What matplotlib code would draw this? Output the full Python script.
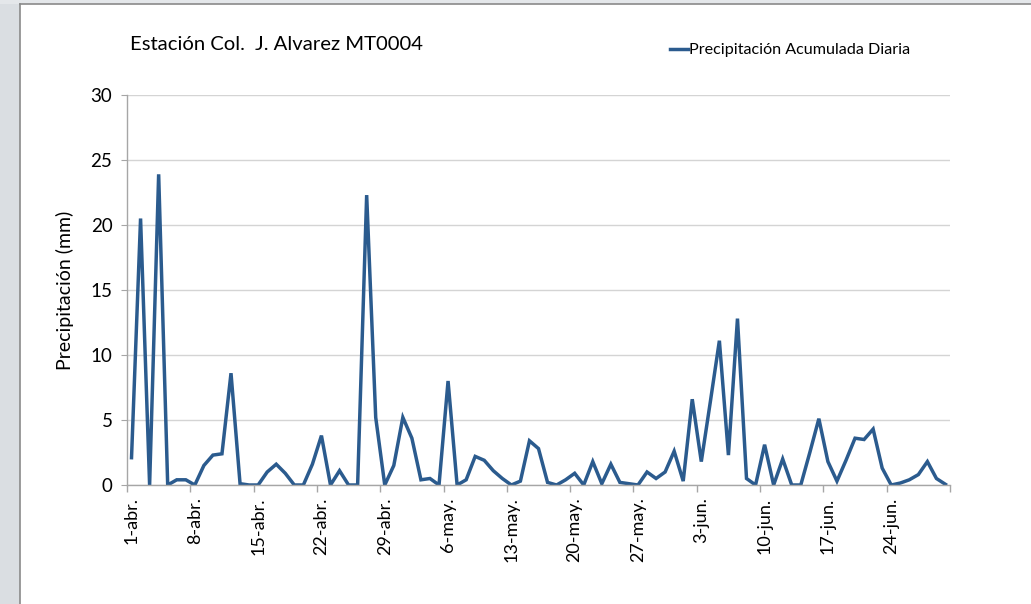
import numpy as np
import matplotlib
matplotlib.use('Agg')
import matplotlib.pyplot as plt
from matplotlib.patches import Rectangle
from matplotlib.lines import Line2D

plt.rcParams['font.family'] = ['Lato', 'DejaVu Sans']

# daily precipitation (mm), 1-abr .. 30-jun
precip = [2.1, 20.5, 0.0, 23.9, 0.0, 0.4, 0.4, 0.0, 1.5, 2.3,
          2.4, 8.6, 0.1, 0.0, 0.0, 1.0, 1.6, 0.9, 0.0, 0.0,
          1.6, 3.8, 0.0, 1.1, 0.0, 0.0, 22.3, 5.2, 0.0, 1.5,
          5.2, 3.6, 0.4, 0.5, 0.0, 8.0, 0.0, 0.4, 2.2, 1.9,
          1.1, 0.5, 0.0, 0.3, 3.4, 2.8, 0.2, 0.0, 0.4, 0.9,
          0.0, 1.8, 0.1, 1.6, 0.2, 0.1, 0.0, 1.0, 0.5, 1.0,
          2.6, 0.3, 6.6, 1.8, 6.4, 11.1, 2.3, 12.8, 0.5, 0.0,
          3.1, 0.0, 2.0, 0.0, 0.0, 2.5, 5.1, 1.8, 0.3, 1.9,
          3.6, 3.5, 4.3, 1.3, 0.0, 0.15, 0.4, 0.8, 1.8, 0.5,
          0.05]
tick_labels = ['1-abr.', '8-abr.', '15-abr.', '22-abr.', '29-abr.', '6-may.',
               '13-may.', '20-may.', '27-may.', '3-jun.', '10-jun.', '17-jun.',
               '24-jun.']

days = np.arange(len(precip))

fig = plt.figure(figsize=(10.31, 6.04), dpi=100)

# gray frame of the screenshot
fig.patches.append(Rectangle((0, 0), 19.5/1031, 1, transform=fig.transFigure,
                             facecolor='#dadee2', edgecolor='none', zorder=-5))
fig.patches.append(Rectangle((0, 1 - 4/604), 1, 4/604, transform=fig.transFigure,
                             facecolor='#e4e7ea', edgecolor='none', zorder=-5))
fig.lines.append(Line2D([19.5/1031, 19.5/1031], [0, 1 - 4/604], transform=fig.transFigure,
                        color='#8a8a8a', lw=1.2))
fig.lines.append(Line2D([19.5/1031, 1], [1 - 4/604, 1 - 4/604], transform=fig.transFigure,
                        color='#8a8a8a', lw=1.2))

ax = fig.add_axes([127/1031, 1 - 485/604, 823/1031, 390/604])
ax.plot(days, precip, color='#2b5b8e', lw=2.5, solid_joinstyle='miter',
        label='Precipitación Acumulada Diaria')

ax.set_xlim(-0.5, len(precip) - 0.5)
ax.set_ylim(0, 30)
ax.set_yticks(np.arange(0, 31, 5))
ax.yaxis.grid(True, color='#d4d4d4', lw=1)
ax.set_axisbelow(True)

ax.set_xticks(days[::7])
ax.set_xticklabels(tick_labels, rotation=90, fontsize=13)
ax.set_xticks(np.arange(-0.5, len(precip), 7), minor=True)
ax.tick_params(axis='x', which='major', length=0, pad=9)
ax.tick_params(axis='x', which='minor', length=5, color='#a6a6a6', width=1)
ax.tick_params(axis='y', length=4.5, color='#a6a6a6', labelsize=13.5, pad=6)

for s in ['top', 'right']:
    ax.spines[s].set_visible(False)
for s in ['left', 'bottom']:
    ax.spines[s].set_color('#a6a6a6')
    ax.spines[s].set_linewidth(1)

ax.set_ylabel('Precipitación (mm)', fontsize=14, labelpad=12)

fig.text(130/1031, 1 - 44/604, 'Estación Col.  J. Alvarez MT0004', fontsize=14.6,
         va='center', ha='left')
ax.legend(loc='center left', bbox_to_anchor=(670/1031, 1 - 50/604),
          bbox_transform=fig.transFigure, frameon=False, fontsize=11.6,
          handlelength=1.1, handletextpad=0.1, borderaxespad=0, borderpad=0)

fig.savefig('out.png', dpi=100)
